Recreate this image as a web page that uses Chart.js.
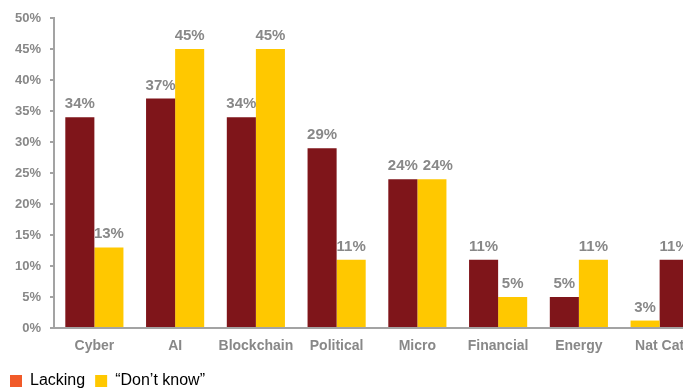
<!DOCTYPE html>
<html>
<head>
<meta charset="utf-8">
<script src="https://cdn.jsdelivr.net/npm/chart.js@4/dist/chart.umd.min.js"></script>
<style>
  html, body { margin: 0; padding: 0; background: #fff; overflow: hidden; }
  #wrap { width: 683px; height: 389px; overflow: hidden; position: relative; }
  #box { width: 700px; height: 399px; position: absolute; left: 0; top: 0; }
</style>
</head>
<body>
<div id="wrap"><div id="box"><canvas id="c" width="700" height="399"></canvas></div></div>
<script>
const categories = ['Cyber', 'AI', 'Blockchain', 'Political', 'Micro', 'Financial', 'Energy', 'Nat Cat'];
const lackingValues = [34, 37, 34, 29, 24, 11, 5, 1.2];
const lackingLabels = ['34%', '37%', '34%', '29%', '24%', '11%', '5%', '3%'];
const dontKnowValues = [13, 45, 45, 11, 24, 5, 11, 11];
const dontKnowLabels = ['13%', '45%', '45%', '11%', '24%', '5%', '11%', '11%'];
const yTicks = [0, 5, 10, 15, 20, 25, 30, 35, 40, 45, 50];
const seriesNames = ['Lacking', '\u201CDon\u2019t know\u201D'];
const swappedColourCategories = ['Nat Cat'];

const RED = '#7f151a';
const YELLOW = '#ffc800';
const LEGEND_RED = '#f15a29';
const GREY_TEXT = '#888888';
const AXIS = '#a3a3a3';
const FONT = '"Liberation Sans", Arial, sans-serif';

const lackingColours = categories.map(c => swappedColourCategories.includes(c) ? YELLOW : RED);
const dontKnowColours = categories.map(c => swappedColourCategories.includes(c) ? RED : YELLOW);

const valueLabels = {
  id: 'valueLabels',
  afterDatasetsDraw(chart) {
    const ctx = chart.ctx;
    ctx.save();
    ctx.font = 'bold 15px ' + FONT;
    ctx.fillStyle = GREY_TEXT;
    ctx.textAlign = 'center';
    ctx.textBaseline = 'alphabetic';
    const m0 = chart.getDatasetMeta(0);
    const ds0 = chart.data.datasets[0];
    chart.data.datasets.forEach((ds, i) => {
      const meta = chart.getDatasetMeta(i);
      meta.data.forEach((el, j) => {
        let x = el.x;
        const y = el.y - 9;
        if (i === 1) {
          const prev = m0.data[j];
          const prevY = prev.y - 9;
          if (Math.abs(prevY - y) < 14) {
            const wPrev = ctx.measureText(ds0.valueText[j]).width;
            const w = ctx.measureText(ds.valueText[j]).width;
            const minX = prev.x + wPrev / 2 + 5 + w / 2;
            if (x < minX) x = minX;
          }
        }
        ctx.fillText(ds.valueText[j], x, y);
      });
    });
    ctx.restore();
  }
};

new Chart(document.getElementById('c'), {
  type: 'bar',
  data: {
    labels: categories,
    datasets: [
      { label: seriesNames[0], data: lackingValues, valueText: lackingLabels,
        backgroundColor: lackingColours, legendColour: LEGEND_RED },
      { label: seriesNames[1], data: dontKnowValues, valueText: dontKnowLabels,
        backgroundColor: dontKnowColours, legendColour: YELLOW }
    ]
  },
  options: {
    responsive: false,
    animation: false,
    devicePixelRatio: 1,
    layout: { padding: { top: 18, right: 0, left: 0, bottom: 0 } },
    datasets: { bar: { categoryPercentage: 0.72, barPercentage: 1.0 } },
    plugins: {
      tooltip: { enabled: false },
      legend: {
        position: 'bottom',
        align: 'start',
        labels: {
          boxWidth: 12,
          boxHeight: 12,
          padding: 10,
          color: '#666',
          font: { family: FONT, size: 16 },
          generateLabels(chart) {
            return chart.data.datasets.map((ds, i) => ({
              text: ds.label,
              fillStyle: ds.legendColour,
              strokeStyle: ds.legendColour,
              lineWidth: 0,
              datasetIndex: i,
              hidden: false
            }));
          }
        }
      }
    },
    scales: {
      x: {
        grid: { display: false, drawTicks: false },
        border: { display: true, color: AXIS, width: 2 },
        ticks: {
          color: GREY_TEXT,
          padding: 10,
          font: { family: FONT, size: 14, weight: 'bold' },
          maxRotation: 0,
          autoSkip: false
        },
        afterFit(scale) { scale.height = 35; }
      },
      y: {
        min: 0,
        max: 50,
        afterBuildTicks(scale) { scale.ticks = yTicks.map(v => ({ value: v })); },
        grid: { drawOnChartArea: false, drawTicks: true, tickLength: 4, color: AXIS, lineWidth: 2 },
        border: { display: true, color: AXIS, width: 2 },
        ticks: {
          color: GREY_TEXT,
          padding: 9,
          font: { family: FONT, size: 13, weight: 'bold' },
          callback: v => v + '%'
        },
        afterFit(scale) { scale.width = 54; }
      }
    }
  },
  plugins: [valueLabels]
});
</script>
</body>
</html>
